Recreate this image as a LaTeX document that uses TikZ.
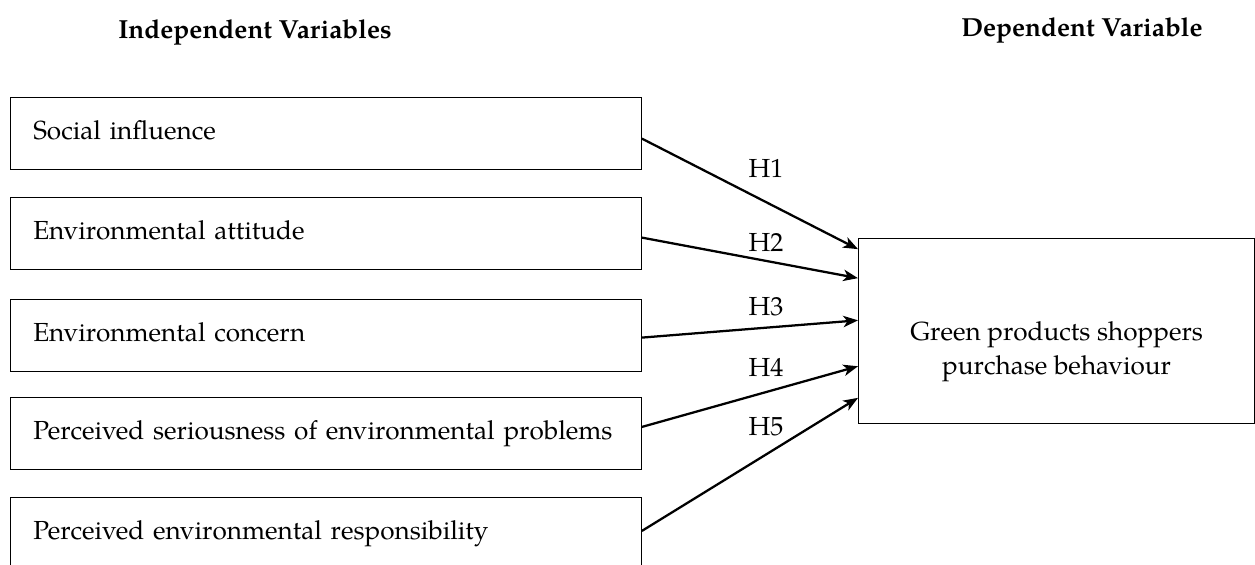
\documentclass[tikz,border=0pt]{standalone}
\usepackage{fontspec}
\setmainfont{TeX Gyre Pagella}
\usetikzlibrary{arrows.meta,calc}

\begin{document}
\begin{tikzpicture}[x=0.75pt,y=-0.75pt,
	ivbox/.style={draw, line width=0.9pt, rectangle, anchor=north west, minimum width=473pt, minimum height=54pt, inner xsep=17pt, text width=439pt, align=left},
	dvbox/.style={draw, line width=0.9pt, rectangle, anchor=north west, minimum width=297pt, minimum height=138.5pt},
	hyp/.style={-{Stealth[length=11pt,width=8.5pt,inset=3pt]}, line width=1.7pt},
	title/.style={font=\bfseries}]
\useasboundingbox (0,0) rectangle (1255,564);
\fontsize{19.6}{25.5}\selectfont
\node[title] (ivtitle) at (255,32) {Independent Variables};
\node[title] (dvtitle) at (1082,30) {Dependent Variable};
\node[ivbox] (social) at (10,97) {\raisebox{6pt}{Social influence}};
\node[ivbox] (attitude) at (10,197) {\raisebox{6pt}{Environmental attitude}};
\node[ivbox] (concern) at (10,299) {\raisebox{6pt}{Environmental concern}};
\node[ivbox] (serious) at (10,397) {\raisebox{6pt}{Perceived seriousness of environmental problems}};
\node[ivbox] (respons) at (10,497) {\raisebox{6pt}{Perceived environmental responsibility}};
\node[dvbox] (behaviour) at (858,238) {\raisebox{-20pt}[0pt][0pt]{\begin{tabular}{@{}c@{}}Green products shoppers\\purchase behaviour\end{tabular}}};
\coordinate (in1) at ($(behaviour.north west)!0.06!(behaviour.south west)$);
\coordinate (in2) at ($(behaviour.north west)!0.216!(behaviour.south west)$);
\coordinate (in3) at ($(behaviour.north west)!0.443!(behaviour.south west)$);
\coordinate (in4) at ($(behaviour.north west)!0.69!(behaviour.south west)$);
\coordinate (in5) at ($(behaviour.north west)!0.86!(behaviour.south west)$);
\draw[hyp] ([yshift=-3.75pt]social.east) -- (in1);
\draw[hyp] ([yshift=-3pt]attitude.east) -- (in2);
\draw[hyp] ([yshift=-1.5pt]concern.east) -- (in3);
\draw[hyp] ([yshift=5pt]serious.east) -- (in4);
\draw[hyp] ([yshift=2pt]respons.east) -- (in5);
\node (h1) at (766,168) {H1};
\node (h2) at (766,242) {H2};
\node (h3) at (766,307) {H3};
\node (h4) at (766,367) {H4};
\node (h5) at (766,427) {H5};
\end{tikzpicture}
\end{document}
